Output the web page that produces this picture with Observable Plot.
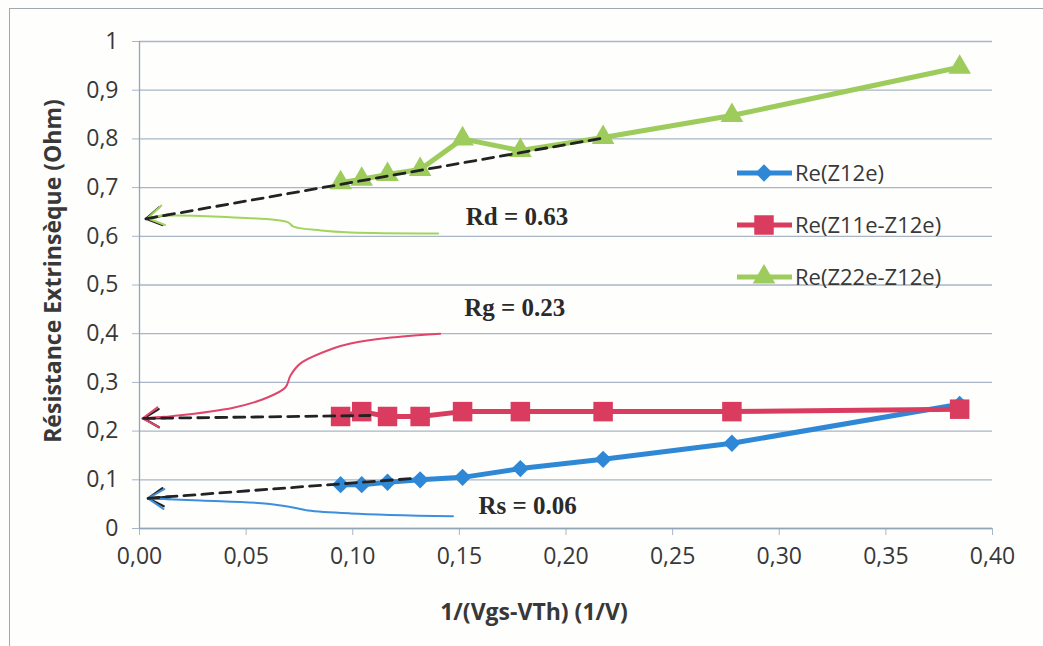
<!DOCTYPE html>
<html><head><meta charset="utf-8">
<script src="https://cdn.jsdelivr.net/npm/d3@7"></script>
<script src="https://cdn.jsdelivr.net/npm/@observablehq/plot@0.6"></script>
<style>
body{margin:0;background:#fff;}
#wrap{position:relative;width:1043px;height:646px;overflow:hidden;background:#fefefd;}
#border{position:absolute;left:9px;top:8px;width:1100px;height:700px;border-left:1.5px solid #a2a8b0;border-top:1.5px solid #a2a8b0;}
#wrap svg{position:absolute;left:0;top:0;}
</style></head><body><div id="wrap"><div id="border"></div></div>
<script>
// ---- data ----
const xVals = [0.0943, 0.1042, 0.1163, 0.1316, 0.1515, 0.1786, 0.2174, 0.2778, 0.3846];
const z12 = [0.09, 0.09, 0.095, 0.10, 0.105, 0.123, 0.142, 0.175, 0.255];
const z11 = [0.23, 0.24, 0.23, 0.23, 0.24, 0.24, 0.24, 0.24, 0.245];
const z22 = [0.71, 0.717, 0.727, 0.737, 0.80, 0.776, 0.803, 0.848, 0.947];
const seriesNames = ["Re(Z12e)", "Re(Z11e-Z12e)", "Re(Z22e-Z12e)"];
const seriesColors = ["#2f88d6", "#d93c5f", "#9dcb5c"];
const seriesSymbols = ["diamond2", "square", "triangle"];

const xTicks = [0, 0.05, 0.10, 0.15, 0.20, 0.25, 0.30, 0.35, 0.40];
const xTickLabels = ["0,00", "0,05", "0,10", "0,15", "0,20", "0,25", "0,30", "0,35", "0,40"];
const yTicks = [0, 0.1, 0.2, 0.3, 0.4, 0.5, 0.6, 0.7, 0.8, 0.9, 1];
const yTickLabels = ["0", "0,1", "0,2", "0,3", "0,4", "0,5", "0,6", "0,7", "0,8", "0,9", "1"];
const xTitle = "1/(Vgs-VTh) (1/V)";
const yTitle = "Résistance Extrinsèque (Ohm)";

// extrapolation (dashed) lines
const fitRsX = [0.004, 0.129], fitRsY = [0.062, 0.103];
const fitRgX = [0.002, 0.108], fitRgY = [0.226, 0.232];
const fitRdX = [0.003, 0.219], fitRdY = [0.636, 0.803];

// hand-drawn annotation curves
const curveRsX = [0.004, 0.0286, 0.060, 0.072, 0.079, 0.099, 0.147];
const curveRsY = [0.062, 0.0575, 0.051, 0.043, 0.037, 0.031, 0.025];
const curveRgX = [0.0014, 0.016, 0.044, 0.060, 0.0685, 0.0708, 0.0755, 0.091, 0.099, 0.118, 0.141];
const curveRgY = [0.226, 0.231, 0.248, 0.269, 0.290, 0.314, 0.339, 0.370, 0.380, 0.392, 0.400];
const curveRdX = [0.0038, 0.0098, 0.038, 0.0694, 0.0722, 0.085, 0.099, 0.140];
const curveRdY = [0.637, 0.642, 0.640, 0.629, 0.620, 0.612, 0.608, 0.606];

const annText = ["Rd = 0.63", "Rg = 0.23", "Rs = 0.06"];
const annX = [0.177, 0.176, 0.182];
const annY = [0.639, 0.452, 0.047];

// ---- build tables ----
const seriesVals = [z12, z11, z22];
const series = seriesVals.map((vals, s) => xVals.map((x, i) => ({x, y: vals[i], s})));
const pts = (xs, ys) => xs.map((x, i) => ({x, y: ys[i]}));
const fits = [pts(fitRsX, fitRsY), pts(fitRgX, fitRgY), pts(fitRdX, fitRdY)];
const curves = [pts(curveRsX, curveRsY), pts(curveRgX, curveRgY), pts(curveRdX, curveRdY)];
const curveColors = ["#3b90de", "#e0456b", "#a2d45e"];

// arrowheads: a long (mostly inset) arrow so the head is not capped by the shaft length
const kx = 2132.5, ky = 487, shaft = 90, visible = 22;
function headAt(tip, from, k) {
  const dx = (tip.x - from.x) * kx, dy = (tip.y - from.y) * ky;
  const L = Math.hypot(dx, dy);
  return {x1: tip.x - dx / L * shaft / kx, y1: tip.y - dy / L * shaft / ky, x2: tip.x, y2: tip.y, k};
}
const arrows = curves.map((c, k) => headAt(c[0], c[1], k));
const fitArrows = fits.map((c, k) => headAt(c[0], c[1], k));
const ann = annText.map((t, i) => ({t, x: annX[i], y: annY[i]}));

const gridColor = "#a9b6c7";
const textColor = "#383838";

const marks = [
  Plot.gridY(yTicks, {stroke: gridColor, strokeOpacity: 1, strokeWidth: 1.3}),
  Plot.axisY(yTicks, {tickFormat: (d, i) => yTickLabels[i], tickSize: 7, tickPadding: 14, stroke: gridColor, fill: textColor, fontSize: 23, label: null}),
  Plot.axisX(xTicks, {tickFormat: (d, i) => xTickLabels[i], tickSize: 7, tickPadding: 12, stroke: gridColor, fill: textColor, fontSize: 23, label: null}),
  Plot.ruleX([0], {stroke: "#95a5b8", strokeWidth: 1.3}),
  Plot.ruleY([0], {stroke: "#95a5b8", strokeWidth: 1.3}),
];
curves.forEach((c, k) => marks.push(Plot.line(c, {x: "x", y: "y", stroke: curveColors[k], strokeWidth: 2, curve: "catmull-rom"})));
marks.push(Plot.arrow(fitArrows, {x1: "x1", y1: "y1", x2: "x2", y2: "y2", stroke: "#222", strokeWidth: 2.2, headLength: 12, headAngle: 62, insetStart: shaft - visible}));
marks.push(Plot.arrow(arrows, {x1: "x1", y1: "y1", x2: "x2", y2: "y2", stroke: d => curveColors[d.k], strokeWidth: 2, headLength: 14, headAngle: 64, insetStart: shaft - visible}));
// data lines
[2, 0, 1].forEach(s => {
  marks.push(Plot.line(series[s], {x: "x", y: "y", stroke: seriesColors[s], strokeWidth: 5}));
  marks.push(Plot.dot(series[s], {x: "x", y: "y", fill: seriesColors[s], symbol: seriesSymbols[s], r: [7.8, 11, 8.4][s], stroke: "none"}));
});
fits.forEach(c => marks.push(Plot.line(c, {x: "x", y: "y", stroke: "#222", strokeWidth: 2.8, strokeDasharray: "11,7"})));
marks.push(Plot.text(ann, {x: "x", y: "y", text: "t", fontFamily: "'Liberation Serif', serif", fontWeight: "bold", fontSize: 25, fill: "#2a2a2a"}));
marks.push(Plot.text([xTitle], {text: d => d, frameAnchor: "bottom", dx: -32, dy: 91, fontWeight: "bold", fontSize: 23, fill: textColor}));
marks.push(Plot.text([yTitle], {text: d => d, frameAnchor: "left", textAnchor: "middle", dx: -86, dy: -14, rotate: -90, fontWeight: "bold", fontSize: 23, fill: textColor}));

const chart = Plot.plot({
  width: 1043, height: 646,
  marginLeft: 139, marginRight: 51, marginTop: 41, marginBottom: 118,
  x: {domain: [0, 0.4]},
  y: {domain: [0, 1]},
  style: {fontFamily: "'Open Sans', sans-serif", fontSize: "23px", background: "transparent", overflow: "visible"},
  marks
});
const wrap = document.getElementById("wrap");
wrap.appendChild(chart);

// legend overlay
const leg = d3.select(wrap).append("svg").attr("width", 1043).attr("height", 646)
  .style("font-family", "'Open Sans', sans-serif");
const legY = [173, 225, 277];
const symMap = {"diamond2": d3.symbolDiamond2, "square": d3.symbolSquare, "triangle": d3.symbolTriangle};
seriesNames.forEach((name, s) => {
  const g = leg.append("g").attr("transform", `translate(0,${legY[s]})`);
  g.append("line").attr("x1", 737).attr("x2", 792).attr("stroke", seriesColors[s]).attr("stroke-width", 5);
  const r = [7.8, 11, 8.4][s];
  g.append("path").attr("transform", "translate(764,0)").attr("d", d3.symbol(symMap[seriesSymbols[s]], r * r * Math.PI)()).attr("fill", seriesColors[s]);
  g.append("text").attr("x", 795).attr("dy", "0.35em").attr("font-size", 22).attr("fill", textColor).text(name);
});
</script></body></html>
